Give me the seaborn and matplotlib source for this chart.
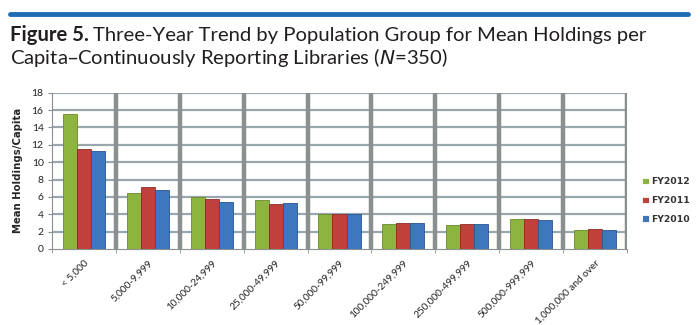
import matplotlib
matplotlib.use("Agg")
import matplotlib.pyplot as plt
import seaborn as sns
import pandas as pd

categories = ["< 5,000", "5,000-9,999", "10,000-24,999", "25,000-49,999", "50,000-99,999",
              "100,000-249,999", "250,000-499,999", "500,000-999,999", "1,000,000 and over"]
fy2012 = [15.5, 6.5, 6.0, 5.6, 4.0, 2.9, 2.8, 3.5, 2.2]
fy2011 = [11.5, 7.1, 5.8, 5.2, 4.0, 3.0, 2.9, 3.4, 2.3]
fy2010 = [11.3, 6.8, 5.4, 5.3, 4.0, 3.0, 2.9, 3.3, 2.2]
series = ["FY2012", "FY2011", "FY2010"]
colors = ["#8db43f", "#c0403c", "#3f77bf"]
edge_colors = ["#6a8a2a", "#8e2a28", "#2a5590"]

df = pd.DataFrame({
    "group": categories * 3,
    "year": [s for s in series for _ in categories],
    "value": fy2012 + fy2011 + fy2010,
})

sns.set_style("white")
plt.rcParams["font.family"] = ["Lato", "DejaVu Sans"]

fig = plt.figure(figsize=(7, 3.25), dpi=100)
ax = fig.add_axes([52/700, 1-249/325, (627-52)/700, (249-92.7)/325])

sns.barplot(data=df, x="group", y="value", hue="year", order=categories,
            hue_order=series, palette=colors, width=0.66, ax=ax,
            linewidth=0.6, saturation=1, legend=True, zorder=3)
for cont, ec in zip(ax.containers, edge_colors):
    for bar in cont:
        bar.set_edgecolor(ec)

ax.set_xlim(-0.5, len(categories) - 0.5)
ax.set_ylim(0, 18)
ax.set_yticks(range(0, 19, 2))
ax.set_yticklabels([str(v) for v in range(0, 19, 2)], fontsize=7.5, color="#222222")
for y in range(2, 19, 2):
    ax.axhline(y, color="#9aa7ae", lw=1.6, zorder=1)
for i in range(len(categories)):
    ax.axvline(i + 0.5, color="#8a9090", lw=3.2, zorder=1)

ax.set_xticks(range(len(categories)))
ax.set_xticklabels(categories, rotation=45, ha="right", rotation_mode="anchor",
                   fontsize=7.2, color="#222222")
ax.set_xticks([i - 0.5 for i in range(len(categories) + 1)], minor=True)
ax.tick_params(axis="x", which="major", length=0, pad=7)
ax.tick_params(axis="x", which="minor", length=3, color="#8a9090", bottom=True)
ax.tick_params(axis="y", length=3, color="#8a9090", pad=3, left=True)
ax.set_xlabel("")
ax.set_ylabel("Mean Holdings/Capita", fontsize=7.3, fontweight="bold", labelpad=6,
              family=["DejaVu Sans"])
for s in ["top", "right"]:
    ax.spines[s].set_visible(False)
ax.spines["left"].set_color("#8a9090")
ax.spines["bottom"].set_color("#8a9090")

leg = ax.legend(loc="center left", bbox_to_anchor=(1.012, 0.31), frameon=False,
                prop={"family": "DejaVu Sans", "weight": "bold", "size": 6.7},
                handlelength=0.7, handleheight=0.7, handletextpad=0.3,
                labelspacing=1.05)
for txt in leg.get_texts():
    txt.set_color("#333333")

# top blue rule
fig.add_artist(plt.Line2D([10/700, 688/700], [1-14/325, 1-14/325], color="#1f6db5", lw=3.5))

# title
fs = 14.6
t1 = fig.text(10/700, 1-41/325, "Figure 5.", fontsize=fs, fontweight="bold",
              va="baseline", color="#231f20")
fig.canvas.draw()
bb = t1.get_window_extent()
x2 = bb.x1 / fig.bbox.width
fig.text(x2 + 4/700, 1-41/325, "Three-Year Trend by Population Group for Mean Holdings per",
         fontsize=fs, va="baseline", color="#231f20")
fig.text(10/700, 1-64/325, "Capita\u2013Continuously Reporting Libraries ($\\mathit{N}$=350)",
         fontsize=fs, va="baseline", color="#231f20")

fig.savefig("out.png", dpi=100)
